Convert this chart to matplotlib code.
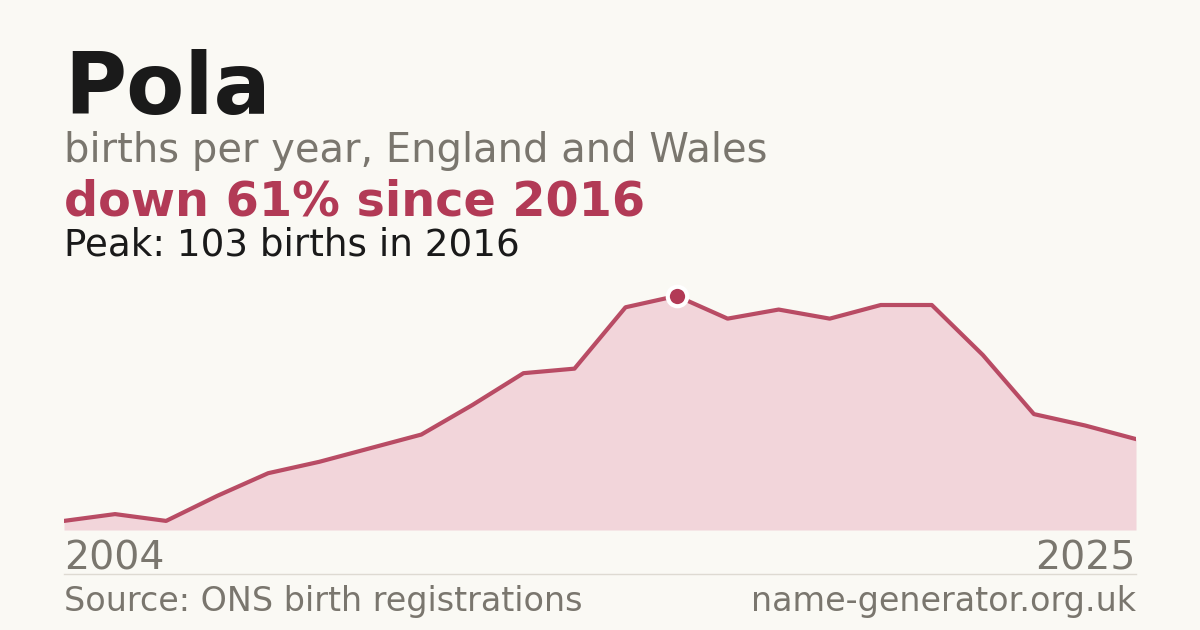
import matplotlib
matplotlib.use('Agg')
import matplotlib.pyplot as plt

years = list(range(2004, 2026))
births = [4, 7, 4, 15, 25, 30, 36, 42, 55, 69, 71, 98, 103, 93, 97, 93, 99, 99, 77, 51, 46, 40]
peak_year = 2016
peak_value = 103

bg = '#faf9f4'
red = '#b23a56'
grey = '#7a766e'

fig = plt.figure(figsize=(12, 6.3), dpi=100, facecolor=bg)
W, H = 1200, 630

# chart area: x 64..1136, baseline y=530
ax = fig.add_axes([64 / W, (H - 530) / H, (1136 - 64) / W, 250 / H])
ax.set_facecolor(bg)
ax.fill_between(years, births, 0, color='#f2d5da', lw=0)
ax.plot(years, births, color=red, lw=3, solid_joinstyle='round', alpha=0.9)
ax.plot([peak_year], [peak_value], 'o', ms=14, color=red, mec='white', mew=3)
ax.set_xlim(2004, 2025)
ax.set_ylim(0, 110)
ax.axis('off')

# header
fig.text(64 / W, 1 - 114 / H, 'Pola', fontsize=61, fontweight='bold', color='#1a1a1a', va='baseline')
fig.text(64 / W, 1 - 162 / H, 'births per year, England and Wales', fontsize=28.8, color=grey, va='baseline')
fig.text(64 / W, 1 - 215 / H, 'down 61% since 2016', fontsize=34.4, fontweight='bold', color=red, va='baseline')
fig.text(64 / W, 1 - 255 / H, 'Peak: 103 births in 2016', fontsize=26.8, color='#1a1a1a', va='baseline')

# axis end labels
fig.text(64 / W, 1 - 570 / H, '2004', fontsize=28.4, color=grey, va='baseline')
fig.text(1136 / W, 1 - 570 / H, '2025', fontsize=28.4, color=grey, va='baseline', ha='right')

# separator and footer
fig.add_artist(plt.Line2D([64 / W, 1136 / W], [1 - 574 / H, 1 - 574 / H], color='#dedad2', lw=1))
fig.text(64 / W, 1 - 611 / H, 'Source: ONS birth registrations', fontsize=24, color=grey, va='baseline')
fig.text(1136 / W, 1 - 611 / H, 'name-generator.org.uk', fontsize=24, color=grey, va='baseline', ha='right')

fig.savefig('out.png', dpi=100, facecolor=bg)
